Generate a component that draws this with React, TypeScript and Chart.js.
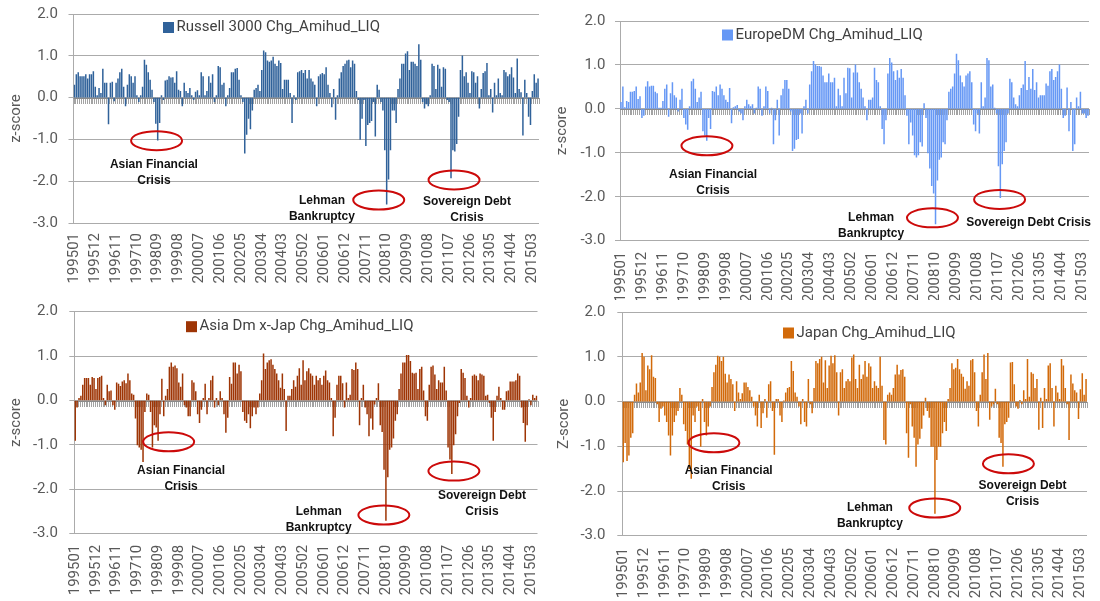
import React, { useEffect, useRef } from 'react';
import { Chart, registerables } from 'chart.js';

Chart.register(...registerables);
Chart.defaults.font.family = 'Roboto, "DejaVu Sans", sans-serif';

// ---------- categories (monthly, 199501 .. 201506) ----------
const YEARS: number[] = [1995, 1996, 1997, 1998, 1999, 2000, 2001, 2002, 2003, 2004, 2005, 2006, 2007, 2008, 2009, 2010, 2011, 2012, 2013, 2014, 2015];
const MONTH_CODES: string[] = ['01', '02', '03', '04', '05', '06', '07', '08', '09', '10', '11', '12'];
const MONTHS: string[] = YEARS.flatMap((y) => (y === 2015 ? MONTH_CODES.slice(0, 6) : MONTH_CODES).map((m) => `${y}${m}`));

// tick labels shown on the category axis
const TICK_LABELS: string[] = [
  '199501', '199512', '199611', '199710', '199809', '199908', '200007', '200106', '200205', '200304', '200403', '200502',
  '200601', '200612', '200711', '200810', '200909', '201008', '201107', '201206', '201305', '201404', '201503',
];

const Y_TICKS: number[] = [2, 1, 0, -1, -2, -3];

// ---------- series values (z-scores) ----------
const RUSSELL_3000: number[] = [
  0.3, 0.55, 0.6, 0.5, 0.5, 0.5, 0.55, 0.45, 0.55, 0.55, 0.62, 0.25,
  0.05, 0.22, 0.1, 0.68, 0.35, 0.35, -0.63, 0.35, 0.37, -0.08, 0.35, 0.45,
  0.6, 0.68, 0.25, -0.2, 0.3, 0.55, 0.5, 0.35, 0.5, 0.05, -0.1, 0.05,
  0.25, 0.9, 0.78, 0.6, 0.42, 0.18, -0.1, -0.62, -1.02, -0.6, 0.05, -0.05,
  0.4, 0.42, 0.5, 0.47, 0.48, 0.35, 0.62, 0.18, 0.15, -0.2, 0.35, 0.15,
  0.1, 0.22, 0.05, -0.05, 0.13, 0.17, 0.05, 0.6, 0.5, 0.05, 0.15, 0.5,
  0.35, 0.55, -0.1, 0.05, 0.75, 0.72, 0.3, 0.35, -0.2, 0.05, 0.22, 0.6,
  0.6, 0.68, 0.7, 0.42, 0.05, -0.1, -1.33, -0.88, -0.5, -0.75, -0.3, 0.18,
  0.22, 0.3, 0.15, 0.65, 1.12, 1.08, 0.88, 0.85, 0.88, 0.97, 0.8, 0.75,
  0.88, 0.82, 0.2, 0.42, 0.42, 0.42, 0.1, -0.6, 0.05, -0.05, 0.6, 0.62,
  0.65, 0.58, 0.65, 0.45, 0.65, 0.45, 0.38, 0.3, -0.2, 0.5, 0.55, 0.58,
  0.55, 0.72, 0.3, 0.1, -0.22, 0.2, -0.52, 0.05, 0.45, 0.6, 0.75, 0.8,
  0.88, 0.9, 0.72, 0.88, 0.8, 0.15, -0.05, -1.0, -0.5, -0.05, -1.15, -0.65,
  -0.6, -0.55, -0.1, -0.92, 0.3, 0.18, -0.1, -0.3, -1.25, -2.55, -1.95, -1.25,
  -0.3, -0.3, -0.6, 0.2, 0.45, 0.8, 0.8, 1.05, 1.1, 0.65, 0.85, 0.85,
  0.8, 0.75, 1.27, 0.9, -0.1, -0.25, -0.15, -0.2, 0.05, 0.8, 0.75, 0.2,
  0.78, 0.68, 0.25, 0.72, 0.68, -0.05, -0.1, -1.92, -1.25, -1.28, -1.1, -0.45,
  0.65, 1.0, 0.5, 0.6, 0.35, 0.1, 0.62, 0.6, 0.35, 0.5, -0.25, 0.2,
  0.58, 0.62, 0.82, 0.05, 0.2, -0.35, 0.35, 0.05, 0.45, 0.1, 0.05, 0.65,
  0.6, 0.5, 0.55, 0.72, 0.47, 0.1, 0.93, 0.2, 0.12, -0.9, 0.42, 0.1,
  -0.45, -0.65, 0.15, 0.55, 0.35, 0.45,
];

const EUROPE_DM: number[] = [
  0.15, 0.5, 0.03, 0.17, 0.15, 0.38, 0.38, 0.4, 0.5, 0.22, 0.28, -0.2,
  -0.15, 0.5, 0.62, 0.5, 0.52, 0.52, 0.38, 0.35, 0.02, 0.02, 0.17, 0.45,
  0.55, -0.17, 0.35, 0.6, 0.3, 0.25, -0.05, 0.2, 0.45, -0.2, -0.35, -0.47,
  0.05, 0.62, 0.68, 0.45, 0.15, 0.25, 0.38, -0.5, -0.6, -0.72, -0.2, -0.45,
  0.4, 0.38, 0.5, 0.3, 0.55, 0.45, 0.3, 0.2, 0.15, 0.47, -0.32, 0.03,
  0.05, 0.08, -0.05, -0.1, -0.25, 0.05, 0.2, 0.1, 0.05, 0.1, -0.1, 0.02,
  0.5, 0.45, -0.15, 0.05, 0.5, 0.4, -0.1, 0.02, -0.8, -0.25, 0.2, -0.6,
  0.3, 0.45, 0.65, 0.65, 0.45, -0.05, -0.95, -0.9, -0.7, -0.68, -0.1, -0.55,
  0.05, 0.2, -0.1, 0.55, 0.85, 1.08, 1.0, 0.97, 0.97, 0.95, 0.75, 0.6,
  0.6, 0.8, 0.6, 0.6, 0.7, 0.05, 0.45, 0.3, 0.05, 0.7, 0.35, 0.93,
  0.92, 0.25, 0.82, 1.0, 0.82, 0.6, 0.45, 0.25, 0.05, -0.25, 0.2, 0.2,
  0.25, 0.93, 0.65, 0.6, 0.05, -0.45, -0.8, -0.25, 0.8, 1.15, 1.05, 0.85,
  0.65, 0.87, 0.7, 0.9, 0.7, 0.3, -0.15, -0.8, -0.3, -0.6, -1.05, -1.1,
  -1.05, -0.75, -0.85, 0.12, -0.2, -1.0, -1.35, -1.75, -1.92, -2.62, -1.62, -1.15,
  -1.1, -0.75, -0.8, -0.25, 0.38, 0.45, 0.5, 0.8, 1.25, 1.1, 0.75, 0.6,
  0.5, 0.75, 0.8, 0.85, 0.6, -0.35, -0.5, -0.1, -0.55, 0.6, 0.05, 0.25,
  1.15, 1.1, 0.5, 0.55, 0.02, -0.1, -1.3, -2.02, -1.25, -0.95, -0.75, -0.1,
  0.68, 0.6, 0.25, 0.1, 0.05, 0.3, 0.47, 0.55, 1.08, 0.42, 0.72, 0.45,
  0.9, 0.42, 0.6, 0.25, 0.3, 0.3, 0.3, 0.57, 0.52, 0.85, 0.9, 0.65,
  0.72, 0.85, 1.0, 0.45, -0.2, -0.15, 0.48, -0.5, 0.15, -0.95, -0.8, 0.25,
  0.05, 0.38, -0.1, -0.1, -0.2, -0.15,
];

const ASIA_DM_XJAP: number[] = [
  -0.9, -0.15, 0.05, 0.1, 0.35, 0.5, 0.5, 0.5, 0.35, 0.52, 0.5, 0.25,
  0.5, 0.52, 0.55, 0.05, -0.1, 0.35, 0.2, 0.22, -0.1, -0.2, 0.4, 0.37,
  0.32, 0.42, 0.45, 0.38, 0.6, 0.45, 0.15, 0.12, -0.4, -1.0, -1.05, -1.1,
  -1.38, -0.25, 0.15, 0.12, -0.25, -1.05, -0.55, -0.6, -0.9, -0.3, 0.48, -0.35,
  0.1, 0.25, 0.75, 0.85, 0.75, 0.78, 0.72, 0.4, 0.3, 0.6, -0.1, -0.15,
  -0.35, -0.35, 0.45, 0.4, 0.2, -0.3, -0.5, -0.2, 0.05, 0.37, -0.3, 0.05,
  0.45, 0.55, -0.15, 0.05, -0.1, 0.2, 0.05, -0.3, -0.72, -0.38, 0.52, 0.37,
  0.85, 0.85, 0.6, 0.8, 0.65, -0.25, -0.45, -0.5, -0.3, -0.62, -0.35, -0.15,
  -0.3, -0.15, 0.15, 0.45, 1.05, 0.7, 0.85, 0.9, 0.92, 0.8, 0.7, 0.6,
  0.45, 0.28, 0.6, 0.25, -0.68, 0.1, 0.1, 0.25, 0.45, 0.3, 0.55, 0.72,
  0.35, 0.9, 0.45, 0.65, 0.72, 0.6, 0.55, 0.35, 0.55, 0.45, 0.5, 0.35,
  0.55, 0.67, 0.45, 0.4, 0.05, -0.8, -0.38, 0.35, 0.55, 0.55, 0.38, -0.15,
  0.4, 0.05, 0.12, 0.7, 0.68, 0.85, 0.7, -0.55, 0.05, 0.35, -0.15, -0.3,
  -0.8, -0.4, -0.65, -0.08, 0.05, 0.38, -0.55, -0.7, -1.55, -2.7, -1.72, -1.1,
  -1.05, -0.85, -0.45, -0.3, 0.25, 0.6, 0.85, 0.85, 1.02, 1.02, 0.88, 0.62,
  0.6, 0.62, 0.25, 0.7, 0.75, 0.22, -0.35, -0.45, 0.35, 0.75, 0.78, 0.58,
  0.25, 0.45, 0.4, 0.4, 0.75, 0.22, -1.05, -1.32, -1.65, -1.0, -0.75, -0.35,
  -0.05, 0.7, 0.62, 0.5, 0.1, -0.15, 0.05, 0.55, 0.58, 0.55, 0.45, 0.6,
  0.58, 0.55, 0.1, 0.12, -0.05, -0.38, -0.9, -0.25, 0.1, 0.3, 0.05, -0.2,
  -0.2, 0.2, 0.22, 0.42, 0.42, 0.42, 0.45, 0.6, 0.55, -0.15, -0.5, -0.92,
  -0.55, 0.02, -0.1, 0.12, 0.05, 0.1,
];

const JAPAN: number[] = [
  -1.35, -0.92, -1.32, -1.2, -0.8, -0.7, 0.15, 0.4, 0.2, 0.42, 1.08, 1.0,
  0.25, 0.8, 0.72, 1.03, 0.55, 0.52, -0.05, -0.45, -0.15, -0.1, -0.3, -0.45,
  -0.75, -1.2, -0.75, -0.45, -0.3, -0.2, 0.3, 0.15, -0.5, -0.65, -0.95, -1.5,
  -1.72, -0.3, -0.45, -0.1, -0.2, -1.0, 0.05, -0.45, -0.75, -0.55, -0.1, 0.32,
  0.65, 0.82, 1.02, 1.0, 0.9, 1.0, 0.62, 0.42, 0.6, 0.5, 0.38, -0.2,
  0.45, 0.2, 0.05, 0.18, 0.42, 0.42, 0.32, 0.25, 0.1, -0.1, -0.3, -0.55,
  0.15, -0.58, -0.25, 0.05, -0.35, 0.38, 0.45, -0.2, -1.18, 0.05, 0.05, -0.3,
  -0.45, 0.02, 0.2, 0.3, 0.32, 0.9, 0.68, 0.2, 0.1, -0.1, -0.5, 0.05,
  -0.45, -0.55, 0.5, -0.05, -0.25, 0.3, 0.9, 0.85, 0.95, 1.0, 0.42, 0.92,
  0.3, 0.8, 1.02, 0.85, 1.03, 0.65, -0.3, 0.65, 0.72, 0.3, 0.45, 0.5,
  0.45, 0.98, 1.05, 0.5, 0.3, 0.82, 0.5, 0.6, 0.9, 0.55, 0.85, 0.78,
  0.3, 0.45, 0.35, 0.3, 1.0, 0.35, -0.85, -0.95, 0.15, 0.2, 0.15, 0.3,
  0.6, 0.82, 0.6, 0.7, 0.72, 0.55, -0.7, -1.25, -0.05, -0.55, -0.8, -1.45,
  -0.95, -0.82, -0.6, -0.3, 0.08, -0.2, -0.35, -1.0, -1.0, -2.5, -1.3, -1.0,
  -1.0, -0.7, -0.45, -0.65, 0.05, 0.3, 0.85, 0.72, 0.75, 0.95, 0.72, 0.62,
  0.55, 0.28, 0.45, 0.35, 0.92, 0.95, 0.65, -0.2, -0.55, 0.15, 0.65, 1.05,
  0.5, 1.08, -0.4, -0.1, -0.05, 0.28, -0.05, -0.8, -0.92, -1.45, -0.5, -0.45,
  -0.35, 0.87, 0.88, 0.38, -0.1, -0.15, 0.03, -0.05, 0.25, 0.05, 0.95, 0.1,
  0.65, 0.62, 0.3, 0.5, -0.62, 0.08, -0.58, 0.3, 0.05, 0.8, 0.85, 0.3,
  -0.55, 0.35, 0.2, 0.05, 0.95, 0.8, 0.3, -0.05, -0.85, 0.6, 0.4, 0.25,
  0.2, -0.38, 0.27, 0.63, 0.15, 0.5,
];

// ---------- annotations (category index, z-score) ----------
type Ann = { lines: string[]; tx: number; ty: number; ex: number; ey: number };

const ANN_RUSSELL: Ann[] = [
  { lines: ['Asian Financial', 'Crisis'], tx: 42.0, ty: -1.61, ex: 43.4, ey: -1.03 },
  { lines: ['Lehman', 'Bankruptcy'], tx: 130.8, ty: -2.47, ex: 160.8, ey: -2.45 },
  { lines: ['Sovereign Debt', 'Crisis'], tx: 207.4, ty: -2.5, ex: 200.6, ey: -1.97 },
];
const ANN_EUROPE: Ann[] = [
  { lines: ['Asian Financial', 'Crisis'], tx: 48.3, ty: -1.5, ex: 45.1, ey: -0.84 },
  { lines: ['Lehman', 'Bankruptcy'], tx: 131.2, ty: -2.48, ex: 163.4, ey: -2.48 },
  { lines: ['Sovereign Debt Crisis'], tx: 213.8, ty: -2.6, ex: 198.6, ey: -2.06 },
];
const ANN_ASIA: Ann[] = [
  { lines: ['Asian Financial', 'Crisis'], tx: 56.2, ty: -1.58, ex: 49.6, ey: -0.93 },
  { lines: ['Lehman', 'Bankruptcy'], tx: 129.3, ty: -2.5, ex: 163.9, ey: -2.58 },
  { lines: ['Sovereign Debt', 'Crisis'], tx: 216.0, ty: -2.14, ex: 201.1, ey: -1.59 },
];
const ANN_JAPAN: Ann[] = [
  { lines: ['Asian Financial', 'Crisis'], tx: 55.8, ty: -1.54, ex: 48.0, ey: -0.92 },
  { lines: ['Lehman', 'Bankruptcy'], tx: 130.6, ty: -2.38, ex: 164.9, ey: -2.38 },
  { lines: ['Sovereign Debt', 'Crisis'], tx: 211.4, ty: -1.88, ex: 203.9, ey: -1.39 },
];

// ---------- panel layout / styling ----------
type PanelCfg = {
  left: number; top: number; height: number;
  data: number[]; color: string; legend: string; yTitle: string;
  plotLeft: number; plotRight: number; plotTop: number; plotBottom: number;
  yPad: number; titlePad: number; xPad: number;
  legendX: number; legendY: number;
  ann: Ann[];
};

const PANELS: PanelCfg[] = [
  {
    left: 0, top: 0, height: 300, data: RUSSELL_3000, color: '#30629A', legend: 'Russell 3000 Chg_Amihud_LIQ', yTitle: 'z-score',
    plotLeft: 73.5, plotRight: 539, plotTop: 14, plotBottom: 223, yPad: 10.5, titlePad: 7, xPad: 10,
    legendX: 163, legendY: 27.5, ann: ANN_RUSSELL,
  },
  {
    left: 550, top: 0, height: 300, data: EUROPE_DM, color: '#6698F5', legend: 'EuropeDM Chg_Amihud_LIQ', yTitle: 'z-score',
    plotLeft: 70, plotRight: 539, plotTop: 21, plotBottom: 240.7, yPad: 9.6, titlePad: 3.3, xPad: 11,
    legendX: 172, legendY: 35, ann: ANN_EUROPE,
  },
  {
    left: 0, top: 300, height: 301, data: ASIA_DM_XJAP, color: '#9E3505', legend: 'Asia Dm x-Jap Chg_Amihud_LIQ', yTitle: 'z-score',
    plotLeft: 74.3, plotRight: 537.5, plotTop: 11.7, plotBottom: 233.7, yPad: 11.4, titlePad: 7.5, xPad: 11,
    legendX: 186, legendY: 26.7, ann: ANN_ASIA,
  },
  {
    left: 550, top: 300, height: 301, data: JAPAN, color: '#D26A0A', legend: 'Japan Chg_Amihud_LIQ', yTitle: 'Z-score',
    plotLeft: 72.3, plotRight: 537, plotTop: 12.3, plotBottom: 235.7, yPad: 11.9, titlePad: 5, xPad: 12,
    legendX: 233, legendY: 33, ann: ANN_JAPAN,
  },
];

const GRID = '#ABABAB';
const TEXT = '#595959';

// zero line + category tick marks (Excel style axis crossing at 0)
const zeroAxisPlugin = {
  id: 'zeroAxis',
  beforeDatasetsDraw(chart: any) {
    const xs = chart.scales.x;
    const ys = chart.scales.y;
    const ctx = chart.ctx as CanvasRenderingContext2D;
    const n = chart.data.labels.length;
    const w = (xs.right - xs.left) / n;
    const y0 = Math.round(ys.getPixelForValue(0));
    ctx.save();
    ctx.strokeStyle = '#A3A3A3';
    ctx.lineWidth = 1;
    ctx.beginPath();
    for (let i = 0; i <= n; i++) {
      const px = Math.round(xs.left + i * w) + 0.5;
      ctx.moveTo(px, y0);
      ctx.lineTo(px, y0 + 6);
    }
    ctx.stroke();
    ctx.strokeStyle = '#8A8A8A';
    ctx.beginPath();
    ctx.moveTo(xs.left, y0 + 0.5);
    ctx.lineTo(xs.right, y0 + 0.5);
    ctx.stroke();
    ctx.restore();
  },
};

const overlayPlugin = {
  id: 'overlay',
  afterDatasetsDraw(chart: any, _args: any, opts: any) {
    const cfg: PanelCfg = opts.cfg;
    const xs = chart.scales.x;
    const ys = chart.scales.y;
    const ctx = chart.ctx as CanvasRenderingContext2D;
    ctx.save();
    // legend
    ctx.fillStyle = cfg.color;
    ctx.fillRect(cfg.legendX, cfg.legendY - 5.5, 11, 11);
    ctx.fillStyle = '#404040';
    ctx.font = '15px Roboto, "DejaVu Sans", sans-serif';
    ctx.textBaseline = 'middle';
    ctx.textAlign = 'left';
    ctx.fillText(cfg.legend, cfg.legendX + 13.5, cfg.legendY);
    // annotations
    for (const a of cfg.ann) {
      const ex = xs.getPixelForValue(a.ex);
      const ey = ys.getPixelForValue(a.ey);
      ctx.strokeStyle = '#CC0A0A';
      ctx.lineWidth = 2;
      ctx.beginPath();
      ctx.ellipse(ex, ey, 25.5, 9.5, 0, 0, Math.PI * 2);
      ctx.stroke();
      const tx = xs.getPixelForValue(a.tx);
      const ty = ys.getPixelForValue(a.ty);
      ctx.fillStyle = '#111111';
      ctx.font = 'bold 12px "Liberation Sans", Arial, sans-serif';
      ctx.textAlign = 'center';
      ctx.textBaseline = 'middle';
      a.lines.forEach((line, k) => ctx.fillText(line, tx, ty + k * 16));
    }
    ctx.restore();
  },
};

function Panel({ cfg }: { cfg: PanelCfg }) {
  const ref = useRef<HTMLCanvasElement | null>(null);
  useEffect(() => {
    if (!ref.current) return;
    const chart = new Chart(ref.current, {
      type: 'bar',
      data: {
        labels: MONTHS,
        datasets: [
          {
            label: cfg.legend,
            data: cfg.data,
            backgroundColor: cfg.color,
            borderWidth: 0,
            barThickness: 0.85,
          },
        ],
      },
      plugins: [zeroAxisPlugin, overlayPlugin],
      options: {
        responsive: false,
        animation: false,
        events: [],
        layout: { autoPadding: false, padding: { top: cfg.plotTop, right: 550 - cfg.plotRight, left: 0, bottom: 0 } },
        plugins: {
          legend: { display: false },
          tooltip: { enabled: false },
          overlay: { cfg },
        } as any,
        scales: {
          x: {
            type: 'category',
            grid: { display: false, drawTicks: false },
            border: { display: false },
            ticks: {
              autoSkip: false,
              minRotation: 90,
              maxRotation: 90,
              padding: cfg.xPad,
              color: TEXT,
              font: { size: 15 },
              callback: (_v: any, idx: number) => (TICK_LABELS.includes(MONTHS[idx]) ? MONTHS[idx] : null),
            },
            afterFit: (s: any) => {
              s.height = cfg.height - cfg.plotBottom;
              s.paddingLeft = 0;
              s.paddingRight = 0;
            },
          },
          y: {
            min: -3,
            max: 2,
            afterBuildTicks: (s: any) => {
              s.ticks = Y_TICKS.map((v) => ({ value: v }));
            },
            grid: { color: GRID, lineWidth: 1, tickLength: 5, tickColor: GRID },
            border: { display: true, color: GRID, width: 1 },
            ticks: {
              padding: cfg.yPad,
              color: TEXT,
              font: { size: 15 },
              callback: (v: any) => Number(v).toFixed(1),
            },
            title: {
              display: true,
              text: cfg.yTitle,
              color: TEXT,
              font: { size: 15 },
              padding: { top: cfg.titlePad, bottom: 0 },
            },
            afterFit: (s: any) => {
              s.width = cfg.plotLeft;
              s.paddingTop = 0;
              s.paddingBottom = 0;
            },
          },
        },
      } as any,
    });
    return () => chart.destroy();
  }, [cfg]);
  return (
    <div style={{ position: 'absolute', left: cfg.left, top: cfg.top, width: 550, height: cfg.height, overflow: 'hidden' }}>
      <canvas ref={ref} width={550} height={cfg.height} style={{ width: 550, height: cfg.height, display: 'block' }} />
    </div>
  );
}

export default function App() {
  return (
    <div style={{ position: 'absolute', left: 0, top: 0, width: 1100, height: 601, background: '#ffffff', overflow: 'hidden' }}>
      {PANELS.map((p, i) => (
        <Panel key={i} cfg={p} />
      ))}
    </div>
  );
}
